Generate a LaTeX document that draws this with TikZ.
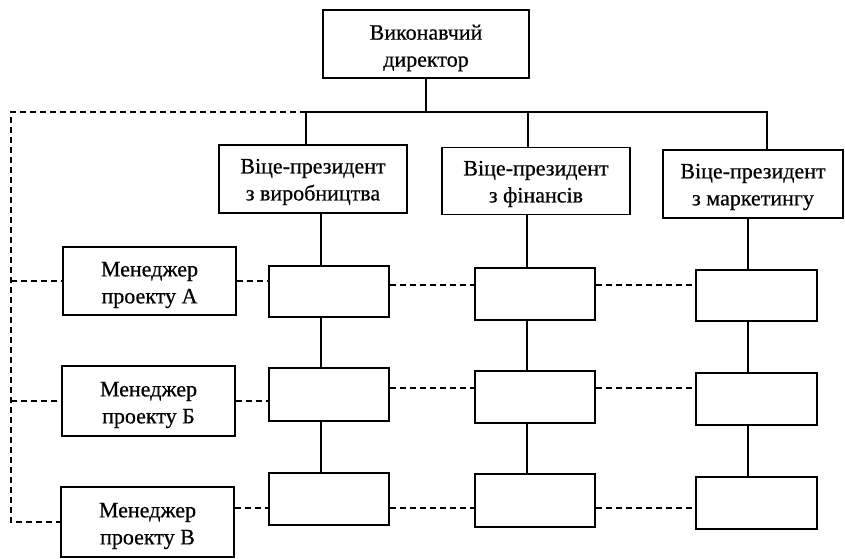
\documentclass[tikz,border=0pt]{standalone}
\usepackage{fontspec}
\setmainfont{Liberation Serif}[FakeBold=0.5]
\begin{document}
\begin{tikzpicture}[x=1pt,y=-1pt,
  box/.style={draw, line width=1.1pt, rectangle, inner sep=0pt},
  txt/.style={inner sep=0pt, align=center, font=\fontsize{22}{27}\selectfont},
  link/.style={line width=1.1pt},
  dlink/.style={line width=1.4pt, dash pattern=on 6pt off 4pt}]
\useasboundingbox (0,0) rectangle (845,558);

% top management
\node[box, minimum width=206, minimum height=68] (dir) at (426,44) {};
\node[box, minimum width=188, minimum height=68] (vp1) at (313,179) {};
\node[box, minimum width=188, minimum height=67] (vp2) at (536,181) {};
\node[box, minimum width=180, minimum height=68] (vp3) at (753,184) {};

% project managers
\node[box, minimum width=173, minimum height=68] (mA) at (149.5,281) {};
\node[box, minimum width=173, minimum height=70] (mB) at (148.5,401) {};
\node[box, minimum width=173, minimum height=70] (mV) at (147.5,522) {};

% box captions, set slightly below the box centres
\node[txt] (dir-t) at ([yshift=-4pt]dir.center) {Виконавчий\\директор};
\node[txt] (vp1-t) at ([yshift=-3pt]vp1.center) {Віце-президент\\з виробництва};
\node[txt] (vp2-t) at ([yshift=-3pt]vp2.center) {Віце-президент\\з фінансів};
\node[txt] (vp3-t) at ([yshift=-3pt]vp3.center) {Віце-президент\\з маркетингу};
\node[txt] (mA-t) at ([yshift=-4pt]mA.center) {Менеджер\\проекту А};
\node[txt] (mB-t) at ([yshift=-4pt]mB.center) {Менеджер\\проекту Б};
\node[txt] (mV-t) at ([yshift=-4pt]mV.center) {Менеджер\\проекту В};

% matrix cells
\node[box, minimum width=120, minimum height=51] (c11) at (329,291.5) {};
\node[box, minimum width=120, minimum height=53] (c12) at (329,394.5) {};
\node[box, minimum width=120, minimum height=52] (c13) at (329,499) {};
\node[box, minimum width=120, minimum height=52] (c21) at (535,294) {};
\node[box, minimum width=120, minimum height=52] (c22) at (535,397) {};
\node[box, minimum width=120, minimum height=53] (c23) at (535,500.5) {};
\node[box, minimum width=121, minimum height=51] (c31) at (756.5,295.5) {};
\node[box, minimum width=121, minimum height=52] (c32) at (756.5,399) {};
\node[box, minimum width=121, minimum height=52] (c33) at (756.5,503) {};

% guide coordinates for the connector runs
\coordinate (bus) at (0,112);
\coordinate (t1) at (306,0);
\coordinate (t2) at (528,0);
\coordinate (t3) at (767,0);
\coordinate (k1) at (321,0);
\coordinate (k2) at (527,0);
\coordinate (k3) at (748,0);
\coordinate (lx) at (11,0);
\coordinate (r1) at (0,285);
\coordinate (r2) at (0,388);
\coordinate (r3) at (0,508);

% line of command
\draw[link] (dir.south) -- (dir.south |- bus);
\draw[link] (vp1.north -| t1) -- (t1 |- bus) -- (t3 |- bus) -- (vp3.north -| t3);
\draw[link] (vp2.north -| t2) -- (t2 |- bus);

\draw[link] (vp1.south -| k1) -- (c11.north -| k1);
\draw[link] (c11.south -| k1) -- (c12.north -| k1);
\draw[link] (c12.south -| k1) -- (c13.north -| k1);
\draw[link] (vp2.south -| k2) -- (c21.north -| k2);
\draw[link] (c21.south -| k2) -- (c22.north -| k2);
\draw[link] (c22.south -| k2) -- (c23.north -| k2);
\draw[link] (vp3.south -| k3) -- (c31.north -| k3);
\draw[link] (c31.south -| k3) -- (c32.north -| k3);
\draw[link] (c32.south -| k3) -- (c33.north -| k3);

% project lines
\draw[dlink] (t1 |- bus) -- (lx |- bus) -- (lx |- mV.west) -- (mV.west);
\draw[dlink] (lx |- mA.west) -- (mA.west);
\draw[dlink] (lx |- mB.west) -- (mB.west);

\draw[dlink] (mA.east) -- (mA.east -| c11.west);
\draw[dlink] (c11.east |- r1) -- (c21.west |- r1);
\draw[dlink] (c21.east |- r1) -- (c31.west |- r1);

\draw[dlink] (mB.east) -- (mB.east -| c12.west);
\draw[dlink] (c12.east |- r2) -- (c22.west |- r2);
\draw[dlink] (c22.east |- r2) -- (c32.west |- r2);

\draw[dlink] (mV.east |- r3) -- (c13.west |- r3);
\draw[dlink] (c13.east |- r3) -- (c23.west |- r3);
\draw[dlink] (c23.east |- r3) -- (c33.west |- r3);
\end{tikzpicture}
\end{document}
